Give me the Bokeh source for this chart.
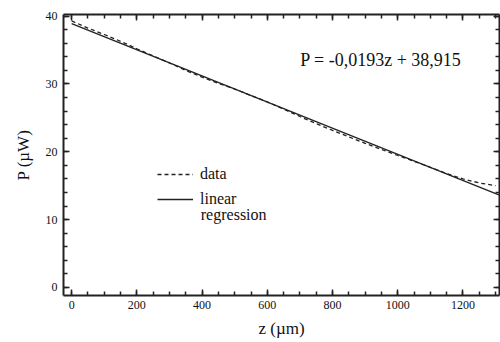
from bokeh.plotting import figure
from bokeh.models import Range1d, LinearAxis, FixedTicker, Legend, LegendItem, Label
from bokeh.embed import file_html
from bokeh.resources import INLINE

z_data = [0, 50, 100, 150, 200, 250, 300, 350, 400, 450, 500, 550, 600, 650,
          700, 750, 800, 850, 900, 950, 1000, 1050, 1100, 1150, 1200, 1250, 1300]
p_data = [39.3, 38.25, 37.3, 36.3, 35.2, 34.15, 33.1, 32.0, 31.0, 30.1, 29.25, 28.3,
          27.35, 26.3, 25.2, 24.15, 23.15, 22.2, 21.25, 20.35, 19.45, 18.6, 17.7,
          16.8, 16.0, 15.4, 15.0]
slope = -0.0193
intercept = 38.915
z_fit = [0, 1310]
p_fit = [slope * z + intercept for z in z_fit]

x_major = [0, 200, 400, 600, 800, 1000, 1200]
x_minor = list(range(0, 1301, 50))
y_major = [0, 10, 20, 30, 40]
y_minor = list(range(0, 41, 2))

FONT = "'Liberation Serif', serif"
INK = "#222222"

p = figure(width=500, height=342, output_backend="svg", toolbar_location=None,
           x_range=Range1d(-25, 1312), y_range=Range1d(-1.2, 40.25),
           min_border_left=63, min_border_right=1, min_border_top=14, min_border_bottom=47,
           x_axis_label="z (\u00b5m)", y_axis_label="P (\u00b5W)")
p.grid.visible = False
p.outline_line_color = None

bottom = p.below[0]
left = p.left[0]

r_data = p.line(z_data, p_data, line_color=INK, line_width=1.3, line_dash="4 3")
r_fit = p.line(z_fit, p_fit, line_color=INK, line_width=1.3)

top = LinearAxis()
right = LinearAxis()
p.add_layout(top, "above")
p.add_layout(right, "right")

for ax in [bottom, top]:
    ax.ticker = FixedTicker(ticks=x_major, minor_ticks=x_minor)
for ax in [left, right]:
    ax.ticker = FixedTicker(ticks=y_major, minor_ticks=y_minor)

for ax in [bottom, left, top, right]:
    ax.axis_line_width = 2
    ax.axis_line_color = INK
    ax.major_tick_in = 6
    ax.major_tick_out = 0
    ax.minor_tick_in = 4
    ax.minor_tick_out = 0
    ax.major_tick_line_color = INK
    ax.minor_tick_line_color = INK
    ax.major_tick_line_width = 1.5
    ax.minor_tick_line_width = 1.5
    ax.major_label_text_font = FONT
    ax.major_label_text_font_size = "12px"
    ax.major_label_text_color = "#111111"
    ax.major_label_standoff = 6
    ax.axis_label_text_font = FONT
    ax.axis_label_text_font_size = "17px"
    ax.axis_label_text_font_style = "normal"
    ax.axis_label_text_color = "#111111"

for ax in [top, right]:
    ax.major_label_text_alpha = 0
    ax.major_label_text_font_size = "1px"
    ax.major_label_standoff = 0

bottom.major_label_standoff = 5
bottom.axis_label_standoff = 7
left.axis_label_standoff = 10

eq = Label(x=948, y=33.6, text="P = -0,0193z + 38,915", text_font=FONT,
           text_font_size="18px", text_align="center", text_baseline="middle",
           text_color="#111111")
p.add_layout(eq)

legend = Legend(items=[LegendItem(label="data", renderers=[r_data]),
                       LegendItem(label="linear", renderers=[r_fit])],
                location=(94, 86), orientation="vertical",
                label_text_font=FONT, label_text_font_size="16px",
                label_text_color="#111111", glyph_width=36, label_standoff=7,
                padding=0, margin=0, spacing=5, border_line_color=None,
                background_fill_alpha=0)
p.add_layout(legend)

reg = Label(x=396, y=10.7, text="regression", text_font=FONT,
            text_font_size="16px", text_align="left", text_baseline="middle",
            text_color="#111111")
p.add_layout(reg)

open("out.html", "w").write(file_html(p, INLINE))
